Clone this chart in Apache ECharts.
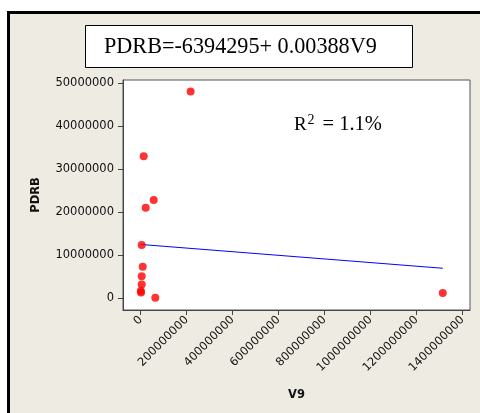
<!DOCTYPE html>
<html>
<head>
<meta charset="utf-8">
<script src="https://cdn.jsdelivr.net/npm/echarts@6/dist/echarts.min.js"></script>
<style>html,body{margin:0;padding:0;background:#fff}#c{width:480px;height:413px}</style>
</head>
<body>
<div id="c"></div>
<script>
// Data
const v9 = [217e6, 13e6, 56.5e6, 21.7e6, 4.3e6, 8.7e6, 4.3e6, 4.3e6, 0.5e6, 1.5e6, 63.5e6, 1313.6e6];
const pdrb = [48.0e6, 33.0e6, 22.8e6, 21.0e6, 12.4e6, 7.3e6, 5.1e6, 3.2e6, 1.7e6, 1.35e6, 0.14e6, 1.23e6];
const fitX = [0.5e6, 1313.6e6];
const fitY = [12.5e6, 6.97e6];
const xTicks = [0, 200000000, 400000000, 600000000, 800000000, 1000000000, 1200000000, 1400000000];
const yTicks = [0, 10000000, 20000000, 30000000, 40000000, 50000000];
const equationText = 'PDRB=-6394295+ 0.00388V9';
const r2Value = '1.1%';

const pts = v9.map((x, i) => [x, pdrb[i]]);
const fit = fitX.map((x, i) => [x, fitY[i]]);

const chart = echarts.init(document.getElementById('c'), null, {renderer: 'canvas'});
const axisFont = {fontFamily: 'DejaVu Sans', fontSize: 11.5, color: '#111'};
chart.setOption({
  animation: false,
  backgroundColor: '#ffffff',
  grid: {left: 123, top: 80, right: 10, bottom: 103, show: true, backgroundColor: '#ffffff',
         borderColor: '#555', borderWidth: 1, containLabel: false, outerBoundsMode: 'none'},
  xAxis: {
    type: 'value', min: -77e6, max: 1432e6,
    name: 'V9', nameLocation: 'middle', nameGap: 79,
    nameTextStyle: {fontFamily: 'DejaVu Sans', fontSize: 11.5, fontWeight: 'bold', color: '#111'},
    axisLine: {show: true, onZero: false, lineStyle: {color: '#444', width: 1}},
    axisTick: {show: true, length: 5, customValues: xTicks, lineStyle: {color: '#444'}},
    axisLabel: Object.assign({rotate: 45, margin: 8, customValues: xTicks, formatter: v => String(v)}, axisFont),
    splitLine: {show: false}
  },
  yAxis: {
    type: 'value', min: -2.72e6, max: 50.7e6,
    name: 'PDRB', nameLocation: 'middle', nameGap: 81,
    nameTextStyle: {fontFamily: 'DejaVu Sans', fontSize: 11.5, fontWeight: 'bold', color: '#111'},
    axisLine: {show: true, onZero: false, lineStyle: {color: '#444', width: 1}},
    axisTick: {show: true, length: 5, customValues: yTicks, lineStyle: {color: '#444'}},
    axisLabel: Object.assign({margin: 9, customValues: yTicks, formatter: v => String(v)}, axisFont),
    splitLine: {show: false}
  },
  series: [
    {type: 'line', data: fit, symbol: 'none', lineStyle: {color: '#0000ff', width: 1}, z: 2},
    {type: 'scatter', data: pts, symbol: 'circle', symbolSize: 8, itemStyle: {color: '#ff0000'}, z: 3}
  ],
  graphic: [
    {type: 'rect', z: -10, silent: true, shape: {x: 8.5, y: 12.5, width: 480, height: 410},
     style: {fill: '#eeebe2', stroke: '#000', lineWidth: 3}},
    {type: 'rect', silent: true, shape: {x: 85.5, y: 25.5, width: 327, height: 42},
     style: {fill: '#fff', stroke: '#000', lineWidth: 1}},
    {type: 'text', silent: true, x: 104, y: 47.5,
     style: {text: equationText, font: '22.2px "Liberation Serif"', fill: '#000', verticalAlign: 'middle', align: 'left'}},
    {type: 'text', silent: true, x: 294, y: 125,
     style: {text: 'R', font: '19px "Liberation Serif"', fill: '#000', verticalAlign: 'middle', align: 'left'}},
    {type: 'text', silent: true, x: 307.5, y: 120,
     style: {text: '2', font: '14px "Liberation Serif"', fill: '#000', verticalAlign: 'middle', align: 'left'}},
    {type: 'text', silent: true, x: 322.5, y: 124.5,
     style: {text: '= ' + r2Value, font: '20.5px "Liberation Serif"', fill: '#000', verticalAlign: 'middle', align: 'left'}}
  ]
});
</script>
</body>
</html>
